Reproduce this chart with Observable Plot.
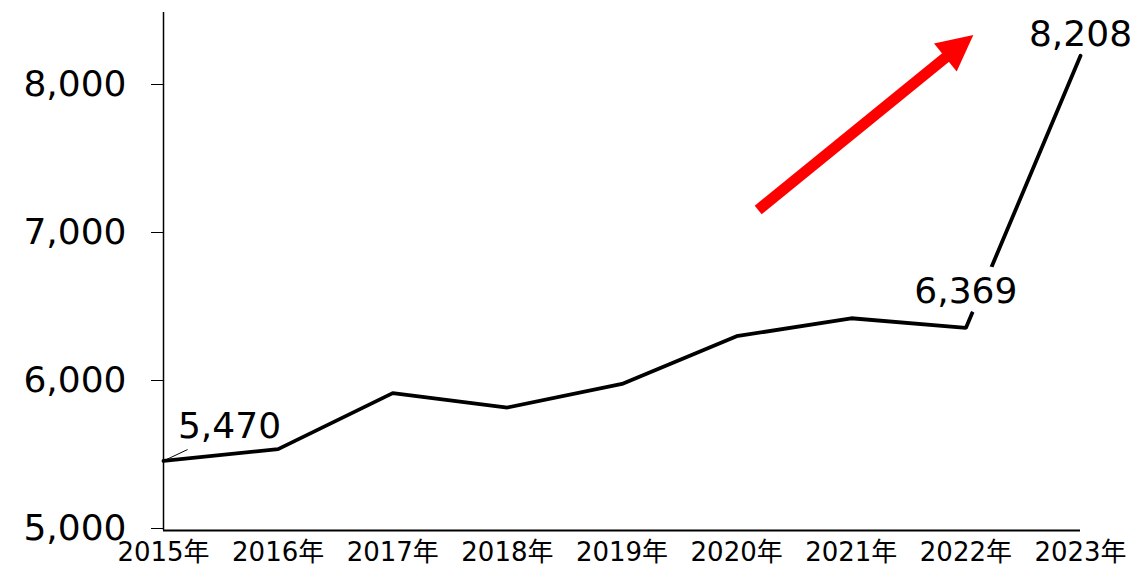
<!DOCTYPE html>
<html><head><meta charset="utf-8">
<script src="https://cdn.jsdelivr.net/npm/d3@7"></script>
<script src="https://cdn.jsdelivr.net/npm/@observablehq/plot@0.6"></script>
<style>body{margin:0;background:#fff;}</style>
</head><body><div id="chart"></div>
<script>
// Data
const years = ["2015年","2016年","2017年","2018年","2019年","2020年","2021年","2022年","2023年"];
const values = [5470, 5550, 5928, 5831, 5990, 6313, 6434, 6369, 8208];
const yTicks = [5000, 6000, 7000, 8000];
const labelFirst = [{i: 0, text: "5,470"}];
const labelMid = [{i: 7, text: "6,369"}];
const labelLast = [{i: 8, text: "8,208"}];
// leader line from the 2015 point to its label (x in year index units, y in value units)
const leaderEnd = [{x: 0.21, y: 5547}];
// red trend arrow (x in year index units, y in value units)
const arrowShaft = [{x1: 5.188, y1: 7166, x2: 6.85, y2: 8213}];
const arrowTip = [{x: 6.943, y: 8272}];

const points = years.map((d, i) => ({i, year: d, value: values[i]}));

const arrowHead = {
  draw(context, size) {
    const r = Math.sqrt(size / Math.PI);
    context.moveTo(0, -r);
    context.lineTo(r, r);
    context.lineTo(-r, r);
    context.closePath();
  }
};

const font = "'DejaVu Sans', 'Noto Sans CJK JP', sans-serif";
const halo = {stroke: "white", strokeWidth: 22, strokeLinejoin: "round", paintOrder: "stroke"};

const chart = Plot.plot({
  width: 1137,
  height: 567,
  marginLeft: 163,
  marginRight: 57,
  marginTop: 12,
  marginBottom: 37,
  style: {fontFamily: font, background: "white", color: "black"},
  x: {domain: [0, years.length - 1], label: null},
  y: {domain: [5000, 8500], label: null},
  marks: [
    Plot.axisX({ticks: d3.range(years.length), tickFormat: i => years[i], tickSize: 0, tickPadding: 12, fontSize: 26, label: null}),
    Plot.axisY({ticks: yTicks, tickFormat: d3.format(","), tickSize: 12, tickPadding: 25, fontSize: 36, label: null, dy: -2}),
    Plot.ruleX([0], {stroke: "black", strokeWidth: 1.5}),
    Plot.ruleY([5000], {stroke: "black", strokeWidth: 2}),
    Plot.line(points, {x: "i", y: "value", stroke: "black", strokeWidth: 3.8, strokeLinejoin: "miter"}),
    Plot.link(leaderEnd, {x1: () => 0, y1: () => values[0], x2: "x", y2: "y", stroke: "black", strokeWidth: 1}),
    Plot.text(labelFirst, {x: d => d.i, y: d => values[d.i], text: "text", fontSize: 36, fill: "black", textAnchor: "middle", lineAnchor: "bottom", dx: 66, dy: -23}),
    Plot.text(labelMid, {x: d => d.i, y: d => values[d.i], text: "text", fontSize: 36, fill: "black", textAnchor: "middle", lineAnchor: "bottom", dy: -25, ...halo}),
    Plot.text(labelLast, {x: d => d.i, y: d => values[d.i], text: "text", fontSize: 36, fill: "black", textAnchor: "middle", lineAnchor: "bottom", dy: -10, ...halo, strokeWidth: 14}),
    Plot.link(arrowShaft, {x1: "x1", y1: "y1", x2: "x2", y2: "y2", stroke: "#ff0000", strokeWidth: 11, strokeLinecap: "butt"}),
    Plot.dot(arrowTip, {x: "x", y: "y", symbol: arrowHead, r: 18, fill: "#ff0000", stroke: "none", rotate: 51})
  ]
});

document.getElementById("chart").appendChild(chart);
</script>
</body></html>
